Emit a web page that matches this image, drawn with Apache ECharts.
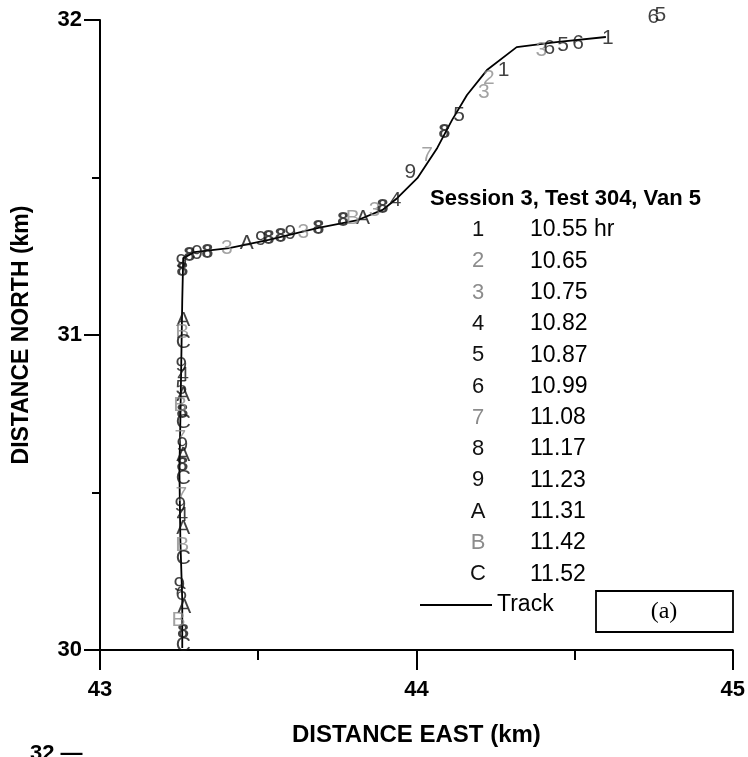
<!DOCTYPE html>
<html>
<head>
<meta charset="utf-8">
<script src="https://cdn.jsdelivr.net/npm/echarts@6/dist/echarts.min.js"></script>
<style>
  html, body { margin: 0; padding: 0; background: #fff; }
  #chart { width: 748px; height: 757px; }
</style>
</head>
<body>
<div id="chart"></div>
<script>
// track (km east, km north)
const trackEast = [43.260, 43.260, 43.254, 43.251, 43.254, 43.257, 43.260, 43.263, 43.298, 43.408, 43.533, 43.690, 43.815, 43.893, 43.940, 44.003, 44.066, 44.113, 44.160, 44.223, 44.317, 44.442, 44.599];
const trackNorth = [30.006, 30.159, 30.349, 30.571, 30.730, 30.921, 31.111, 31.244, 31.263, 31.276, 31.302, 31.340, 31.365, 31.397, 31.435, 31.498, 31.594, 31.683, 31.762, 31.841, 31.914, 31.930, 31.946];

// legend entries
const markChars = ["1", "2", "3", "4", "5", "6", "7", "8", "9", "A", "B", "C"];
const markTimes = ["10.55 hr", "10.65", "10.75", "10.82", "10.87", "10.99", "11.08", "11.17", "11.23", "11.31", "11.42", "11.52"];
const markGray = ["2", "3", "7", "B"];

// marker positions for each character
const pts1 = [[44.605, 31.943], [44.276, 31.841]];
const pts2 = [[44.229, 31.816]];
const pts3 = [[44.395, 31.905], [44.213, 31.771], [43.868, 31.397], [43.643, 31.327], [43.401, 31.276]];
const pts4 = [[43.934, 31.429], [43.263, 30.873], [43.260, 30.429]];
const pts5 = [[44.464, 31.921], [44.135, 31.698], [43.257, 30.832], [44.771, 32.016]];
const pts6 = [[44.511, 31.927], [44.420, 31.911], [43.257, 30.178], [44.749, 32.010]];
const pts7 = [[44.034, 31.571], [43.254, 30.673], [43.257, 30.492]];
const pts8 = [[44.088, 31.644], [43.893, 31.406], [43.768, 31.365], [43.690, 31.340], [43.571, 31.314], [43.533, 31.308], [43.339, 31.263], [43.282, 31.254], [43.260, 31.206], [43.260, 30.756], [43.260, 30.587], [43.263, 30.057]];
const pts9 = [[43.981, 31.517], [43.602, 31.324], [43.508, 31.305], [43.307, 31.260], [43.257, 31.232], [43.257, 30.905], [43.260, 30.651], [43.254, 30.460], [43.251, 30.206]];
const ptsA = [[43.831, 31.371], [43.464, 31.292], [43.263, 31.048], [43.263, 30.810], [43.263, 30.619], [43.263, 30.387], [43.266, 30.137]];
const ptsB = [[43.799, 31.371], [43.260, 31.010], [43.254, 30.778], [43.260, 30.333], [43.248, 30.095]];
const ptsC = [[43.263, 30.978], [43.263, 30.724], [43.263, 30.546], [43.263, 30.292], [43.263, 30.016]];
const markPts = [pts1, pts2, pts3, pts4, pts5, pts6, pts7, pts8, pts9, ptsA, ptsB, ptsC];

const FONT = "Liberation Sans, Arial, sans-serif";
const GRAY = "#8c8c8c";

function charColor(c) {
  return markGray.indexOf(c) >= 0 ? GRAY : "#111";
}

const chart = echarts.init(document.getElementById("chart"));

let series = [
  {
    type: "line",
    data: trackEast.map((x, i) => [x, trackNorth[i]]),
    showSymbol: false,
    symbol: "none",
    lineStyle: { color: "#000", width: 1.8 },
    z: 2
  }
];

markChars.forEach((c, i) => {
  series.push({
    type: "scatter",
    data: markPts[i],
    symbolSize: 2,
    itemStyle: { color: "rgba(0,0,0,0)" },
    clip: false,
    z: 3,
    label: {
      show: true,
      position: "inside",
      formatter: c,
      color: charColor(c),
      fontFamily: FONT,
      fontSize: 21,
      fontWeight: c === "8" ? "bold" : "normal"
    }
  });
});

// legend drawn as text
let graphic = [
  {
    type: "text",
    left: 430,
    top: 188,
    style: { text: "Session 3, Test 304, Van 5", font: "bold 22px " + FONT, fill: "#000" }
  }
];
markChars.forEach((c, i) => {
  const y = 230 + i * 31.3;
  graphic.push({
    type: "text",
    x: 478,
    y: y,
    style: { text: c, font: "22px " + FONT, fill: charColor(c), textAlign: "center", textVerticalAlign: "middle" }
  });
  graphic.push({
    type: "text",
    x: 530,
    y: y,
    style: { text: markTimes[i], font: "23px " + FONT, fill: "#000", textAlign: "left", textVerticalAlign: "middle" }
  });
});
graphic.push({
  type: "line",
  shape: { x1: 420, y1: 605, x2: 492, y2: 605 },
  style: { stroke: "#000", lineWidth: 1.8 }
});
graphic.push({
  type: "text",
  x: 497,
  y: 605,
  style: { text: "Track", font: "23px " + FONT, fill: "#000", textVerticalAlign: "middle" }
});
graphic.push({
  type: "rect",
  shape: { x: 596, y: 591, width: 137, height: 41 },
  style: { fill: "none", stroke: "#000", lineWidth: 1.8 }
});
graphic.push({
  type: "text",
  x: 664,
  y: 612,
  style: { text: "(a)", font: "24px Liberation Serif, serif", fill: "#000", textAlign: "center", textVerticalAlign: "middle" }
});
graphic.push({
  type: "text",
  x: 30,
  y: 743,
  style: { text: "32 \u2014", font: "bold 22px " + FONT, fill: "#000" }
});

const option = {
  animation: false,
  backgroundColor: "#fff",
  grid: { left: 100, right: 11, top: 20, bottom: 107 },
  xAxis: {
    type: "value",
    min: 43,
    max: 45,
    interval: 1,
    name: "DISTANCE EAST (km)",
    nameLocation: "middle",
    nameGap: 73,
    nameTextStyle: { fontFamily: FONT, fontWeight: "bold", fontSize: 24, color: "#000" },
    axisLine: { onZero: false, lineStyle: { color: "#000", width: 2 } },
    axisTick: { length: 20, lineStyle: { color: "#000", width: 2 } },
    minorTick: { show: true, splitNumber: 2, length: 10, lineStyle: { color: "#000", width: 2 } },
    splitLine: { show: false },
    axisLabel: { margin: 29, fontFamily: FONT, fontWeight: "bold", fontSize: 22, color: "#000" }
  },
  yAxis: {
    type: "value",
    min: 30,
    max: 32,
    interval: 1,
    name: "DISTANCE NORTH (km)",
    nameLocation: "middle",
    nameGap: 67,
    nameTextStyle: { fontFamily: FONT, fontWeight: "bold", fontSize: 23, color: "#000" },
    axisLine: { onZero: false, lineStyle: { color: "#000", width: 2 } },
    axisTick: { length: 16, lineStyle: { color: "#000", width: 2 } },
    minorTick: { show: true, splitNumber: 2, length: 8, lineStyle: { color: "#000", width: 2 } },
    splitLine: { show: false },
    axisLabel: { margin: 18, fontFamily: FONT, fontWeight: "bold", fontSize: 22, color: "#000" }
  },
  graphic: graphic,
  series: series
};

chart.setOption(option);
</script>
</body>
</html>
